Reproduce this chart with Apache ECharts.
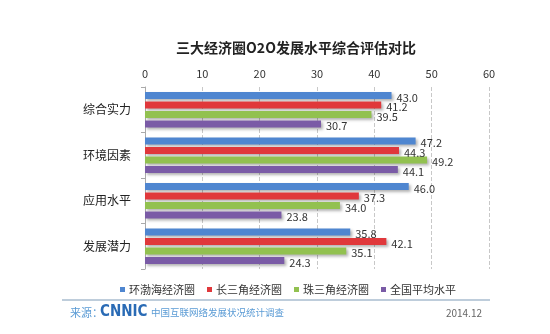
<!DOCTYPE html>
<html>
<head>
<meta charset="utf-8">
<script src="https://cdn.jsdelivr.net/npm/echarts@6/dist/echarts.min.js"></script>
<style>
html,body{margin:0;padding:0;background:#fff;}
#main{width:550px;height:334px;}
</style>
</head>
<body>
<div id="main"></div>
<script>
const categories = ['综合实力', '环境因素', '应用水平', '发展潜力'];
const seriesNames = ['环渤海经济圈', '长三角经济圈', '珠三角经济圈', '全国平均水平'];
const bohai = [43.0, 47.2, 46.0, 35.8];
const changsanjiao = [41.2, 44.3, 37.3, 42.1];
const zhusanjiao = [39.5, 49.2, 34.0, 35.1];
const national = [30.7, 44.1, 23.8, 24.3];
const xTicks = [0, 10, 20, 30, 40, 50, 60];
const colors = ['#4f86d0', '#e0383b', '#92c150', '#7a5ba6'];

const chart = echarts.init(document.getElementById('main'));
const font = '"Noto Sans CJK SC", "Noto Sans", sans-serif';
const dataSets = [bohai, changsanjiao, zhusanjiao, national];

chart.setOption({
  animation: false,
  backgroundColor: '#fff',
  textStyle: { fontFamily: font },
  title: {
    text: '三大经济圈O2O发展水平综合评估对比',
    left: 291, textAlign: 'center', top: 36,
    textStyle: { fontSize: 14, fontWeight: 'bold', color: '#222', fontFamily: font }
  },
  legend: {
    data: seriesNames,
    left: 115, top: 279,
    itemWidth: 5, itemHeight: 5, itemGap: 12,
    icon: 'rect',
    textStyle: { fontSize: 11, color: '#333', padding: [0, 0, 0, -1] }
  },
  grid: { left: 145, right: 61, top: 87, height: 182, containLabel: false },
  xAxis: {
    type: 'value', position: 'top', min: xTicks[0], max: xTicks[xTicks.length - 1], interval: 10,
    axisLine: { show: false }, axisTick: { show: false },
    axisLabel: { fontSize: 11, color: '#333', margin: 8 },
    splitLine: { show: true, lineStyle: { type: 'dashed', color: '#c8c8c8' } }
  },
  yAxis: {
    type: 'category', data: categories, inverse: true,
    axisLine: { show: true, lineStyle: { color: '#aaa' } },
    axisTick: { show: true, length: 4, lineStyle: { color: '#aaa' } },
    axisLabel: { fontSize: 12, color: '#222', margin: 14 },
    splitLine: { show: false }
  },
  series: dataSets.map((d, i) => ({
    name: seriesNames[i], type: 'bar', data: d,
    barWidth: 7, barGap: '36%',
    itemStyle: {
      color: colors[i],
      shadowColor: 'rgba(0,0,0,0.3)', shadowBlur: 3, shadowOffsetX: 2, shadowOffsetY: 2
    },
    label: {
      show: true, position: 'right', distance: 5,
      fontSize: 11, color: '#333', offset: [0, 2],
      formatter: p => p.value.toFixed(1)
    }
  })),
  graphic: [
    { type: 'line', shape: { x1: 62, y1: 300, x2: 490, y2: 300 }, style: { stroke: '#7f9bb8', lineWidth: 1.2 } },
    { type: 'text', left: 70, top: 307, style: { text: '来源：', fontSize: 11, fill: '#5a9bd5', fontFamily: font } },
    { type: 'text', left: 100, top: 305, style: { text: 'CNNIC', fontSize: 15, fontWeight: 'bold', fill: '#2a6bb5', fontFamily: 'DejaVu Sans Condensed, DejaVu Sans' } },
    { type: 'text', left: 151, top: 308, style: { text: '中国互联网络发展状况统计调查', fontSize: 9.5, fill: '#5a9bd5', fontFamily: font } },
    { type: 'text', right: 68, top: 308, style: { text: '2014.12', fontSize: 10, fill: '#666', fontFamily: font } }
  ]
});
</script>
</body>
</html>
